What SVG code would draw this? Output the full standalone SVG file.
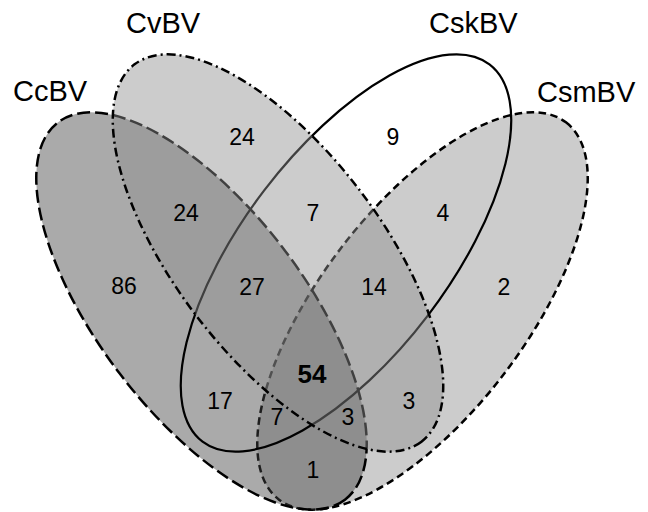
<svg xmlns="http://www.w3.org/2000/svg" width="648" height="512" viewBox="0 0 648 512">
<style>
.set{stroke:#000;stroke-width:2.5}
.gfill{fill:#8e8e8e;fill-opacity:0.45}
.dfill{fill:#424242;fill-opacity:0.45}
.lbl{font-family:"Liberation Sans",Arial,sans-serif;font-size:29px;fill:#000}
.num{font-family:"Liberation Sans",Arial,sans-serif;font-size:23px;fill:#000;text-anchor:middle}
.big{font-size:26px;font-weight:bold}
</style>
<rect width="648" height="512" fill="#fff"/>
<g id="CsmBV">
<ellipse class="set gfill" cx="422.5" cy="311" rx="237" ry="103" transform="rotate(-52.75 422.5 311)" stroke-dasharray="7.5 4.5"/>
</g>
<g id="CcBV">
<ellipse class="set dfill" cx="201.5" cy="311" rx="237" ry="103" transform="rotate(52.75 201.5 311)" stroke-dasharray="13 5"/>
</g>
<g id="CskBV">
<ellipse class="set" fill="none" style="stroke-width:2.2" cx="346" cy="253" rx="237" ry="103" transform="rotate(-52.75 346 253)"/>
</g>
<g id="CvBV">
<ellipse class="set gfill" cx="278" cy="253" rx="237" ry="103" transform="rotate(52.75 278 253)" stroke-dasharray="9 4 2 4"/>
</g>
<g id="labels">
<text class="lbl" x="13" y="101">CcBV</text>
<text class="lbl" x="126" y="33">CvBV</text>
<text class="lbl" x="429" y="33">CskBV</text>
<text class="lbl" x="537" y="102">CsmBV</text>
</g>
<g id="counts">
<text class="num" x="242" y="145">24</text>
<text class="num" x="393" y="145">9</text>
<text class="num" x="186" y="221">24</text>
<text class="num" x="313" y="221">7</text>
<text class="num" x="443" y="221">4</text>
<text class="num" x="124" y="294">86</text>
<text class="num" x="252" y="295">27</text>
<text class="num" x="374" y="295">14</text>
<text class="num" x="504" y="295">2</text>
<text class="num big" x="312" y="383">54</text>
<text class="num" x="220" y="409">17</text>
<text class="num" x="409" y="409">3</text>
<text class="num" x="277" y="425">7</text>
<text class="num" x="348" y="425">3</text>
<text class="num" x="313" y="478">1</text>
</g>
</svg>
